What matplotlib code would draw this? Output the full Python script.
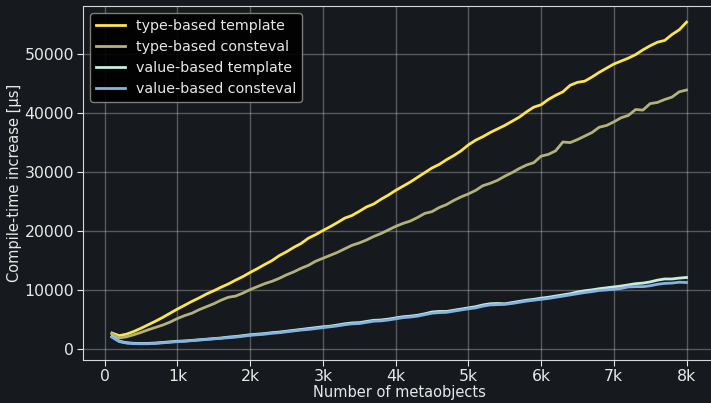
import numpy as np
import matplotlib.pyplot as plt
from matplotlib.ticker import FuncFormatter

# number of metaobjects per benchmark run
n_objects = np.arange(100, 8001, 100)

# compile-time increase in microseconds
type_template = [
    2750, 2300, 2550, 3000, 3550, 4150, 4750, 5400, 6100, 6800,
    7450, 8100, 8700, 9350, 9900, 10500, 11050, 11700, 12300, 13000,
    13650, 14350, 15000, 15850, 16500, 17250, 17900, 18800, 19400, 20100,
    20750, 21450, 22200, 22650, 23350, 24100, 24600, 25400, 26100, 26900,
    27600, 28300, 29100, 29900, 30700, 31300, 32100, 32800, 33600, 34600,
    35400, 36000, 36700, 37300, 37900, 38600, 39300, 40200, 41000, 41400,
    42300, 43000, 43600, 44700, 45200, 45400, 46100, 46900, 47600, 48300,
    48800, 49300, 49900, 50700, 51400, 52000, 52300, 53300, 54100, 55400,
]
type_consteval = [
    2600, 1900, 2100, 2450, 2850, 3300, 3700, 4100, 4600, 5200,
    5700, 6100, 6700, 7200, 7700, 8300, 8800, 9000, 9500, 10100,
    10600, 11100, 11500, 12000, 12600, 13100, 13700, 14200, 14900, 15400,
    15900, 16400, 17000, 17600, 18000, 18500, 19100, 19600, 20200, 20800,
    21300, 21700, 22300, 23000, 23300, 24000, 24500, 25200, 25800, 26300,
    26900, 27700, 28100, 28600, 29300, 29900, 30600, 31200, 31600, 32700,
    33000, 33600, 35100, 35000, 35500, 36100, 36700, 37600, 37900, 38500,
    39200, 39600, 40600, 40500, 41600, 41800, 42300, 42700, 43600, 43900,
]
value_template = [
    2150, 1350, 1100, 1000, 980, 990, 1050, 1150, 1250, 1350,
    1400, 1500, 1600, 1700, 1800, 1900, 2050, 2150, 2300, 2450,
    2550, 2650, 2800, 2900, 3050, 3200, 3350, 3500, 3650, 3800,
    3900, 4100, 4300, 4450, 4500, 4700, 4900, 4950, 5100, 5300,
    5500, 5600, 5750, 6000, 6300, 6400, 6400, 6600, 6800, 7000,
    7200, 7500, 7700, 7750, 7700, 7900, 8100, 8300, 8450, 8650,
    8800, 9000, 9200, 9400, 9700, 9900, 10050, 10250, 10400, 10550,
    10700, 10900, 11100, 11200, 11400, 11700, 11900, 11900, 12050, 12150,
]
value_consteval = [
    2050, 1300, 1050, 950, 920, 930, 980, 1080, 1180, 1280,
    1350, 1450, 1550, 1650, 1750, 1850, 1950, 2050, 2200, 2350,
    2450, 2550, 2700, 2800, 2950, 3100, 3250, 3350, 3500, 3650,
    3800, 3950, 4150, 4300, 4350, 4550, 4750, 4800, 4950, 5150,
    5350, 5450, 5600, 5850, 6100, 6200, 6250, 6450, 6650, 6850,
    7000, 7300, 7500, 7550, 7600, 7750, 7950, 8150, 8300, 8450,
    8600, 8800, 9000, 9200, 9400, 9600, 9750, 9950, 10050, 10150,
    10300, 10550, 10600, 10600, 10750, 11000, 11150, 11200, 11350, 11300,
]

bg = "#16191d"
fg = "#e8e8e8"

fig = plt.figure(figsize=(7.11, 4.03), dpi=100, facecolor=bg)
# right edge of the axes sits just past the canvas
ax = fig.add_axes([0.117, 0.107, 0.889, 0.878], facecolor=bg)

ax.plot(n_objects, type_template, color="#fce54c", lw=2, label="type-based template")
ax.plot(n_objects, type_consteval, color="#b3b27a", lw=2, label="type-based consteval")
ax.plot(n_objects, value_template, color="#c6eedf", lw=2, label="value-based template")
ax.plot(n_objects, value_consteval, color="#84b2e2", lw=2, label="value-based consteval")

ax.set_xticks(np.arange(0, 8001, 1000))
ax.xaxis.set_major_formatter(FuncFormatter(lambda v, p: "0" if v == 0 else f"{int(v / 1000)}k"))
ax.set_yticks(np.arange(0, 50001, 10000))

ax.set_xlabel("Number of metaobjects", color=fg, fontsize=10.5, labelpad=1)
ax.set_ylabel("Compile-time increase [µs]", color=fg, fontsize=10.5, labelpad=2)
ax.grid(True, color="#ffffff", alpha=0.28, lw=1)
ax.tick_params(colors=fg, labelcolor=fg, length=4, pad=2.5, labelsize=11.3)
for s in ax.spines.values():
    s.set_color("#d8d8d8")

ax.legend(loc="upper left", facecolor="black", edgecolor="#888888",
          framealpha=0.9, labelcolor=fg, fontsize=10.3, handlelength=2.0)

fig.savefig("out.png", dpi=100, facecolor=bg)
